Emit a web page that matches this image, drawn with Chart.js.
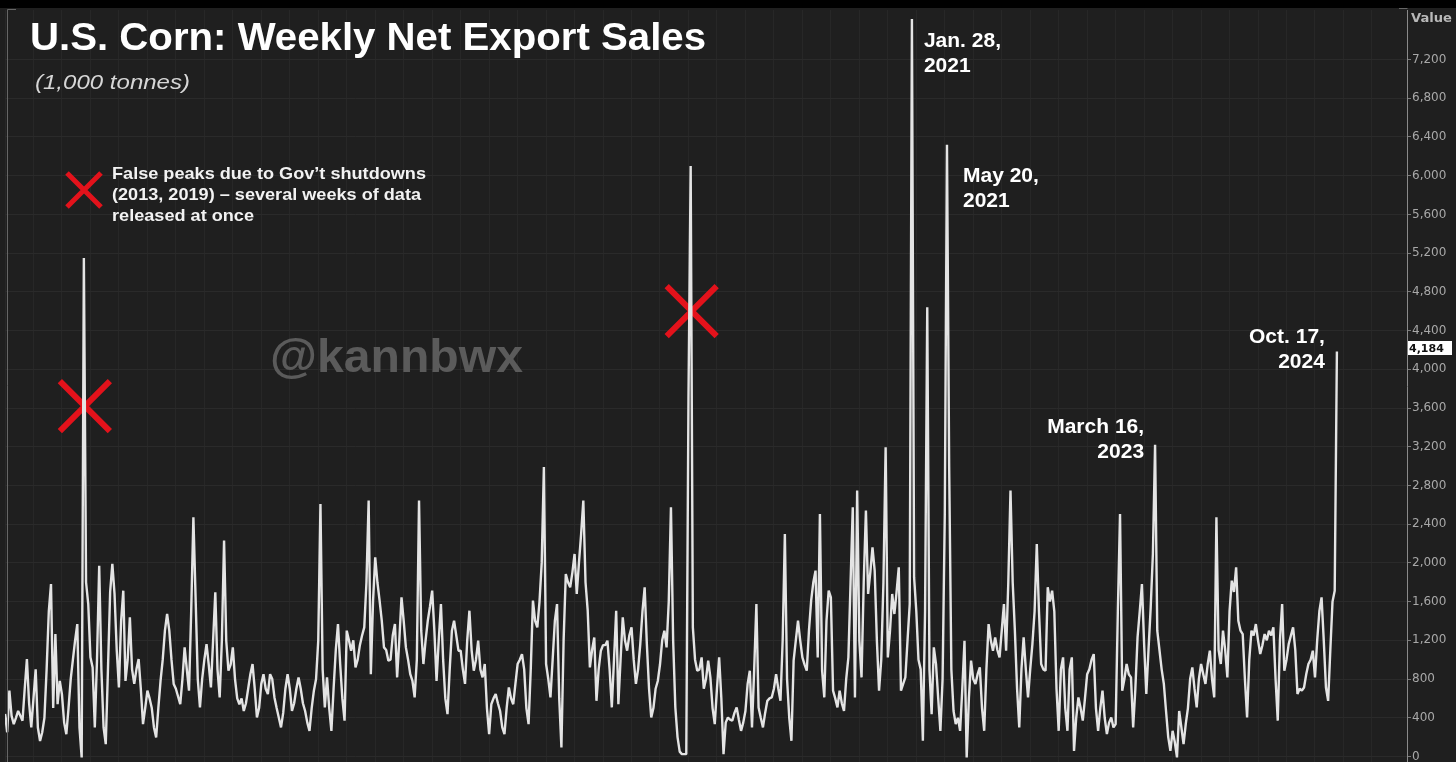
<!DOCTYPE html>
<html>
<head>
<meta charset="utf-8">
<title>U.S. Corn: Weekly Net Export Sales</title>
<script src="https://cdn.jsdelivr.net/npm/chart.js@4.4.1/dist/chart.umd.min.js"></script>
<style>
  html, body { margin: 0; padding: 0; background: #1f1f1f; overflow: hidden; }
  canvas { display: block; }
</style>
</head>
<body>
<canvas id="cornChart" width="1456" height="762"></canvas>
<script>
// weekly net export sales, 1,000 tonnes (last week = Oct. 17, 2024)
const weeklySales = [
  440, 250, 680, 420, 334, 400, 470, 420, 370, 700,
  1006, 550, 300, 600, 900, 300, 160, 250, 400, 900,
  1500, 1782, 500, 1265, 540, 780, 640, 350, 230, 500,
  800, 1000, 1200, 1368, 300, -10, 5150, 1800, 1575, 1024,
  920, 300, 1000, 1970, 900, 300, 127, 900, 1700, 1990,
  1680, 1100, 713, 1400, 1713, 780, 1000, 1437, 900, 750,
  900, 1006, 700, 334, 500, 680, 600, 500, 300, 196,
  500, 780, 1000, 1300, 1472, 1300, 1000, 750, 700, 620,
  540, 800, 1127, 900, 680, 1500, 2471, 1644, 800, 507,
  800, 1000, 1160, 950, 713, 1200, 1696, 900, 610, 1200,
  2230, 1196, 886, 950, 1127, 800, 600, 540, 600, 470,
  550, 700, 850, 955, 700, 403, 500, 750, 850, 700,
  645, 850, 800, 610, 500, 400, 300, 450, 700, 850,
  700, 470, 550, 700, 817, 700, 550, 470, 350, 265,
  500, 680, 800, 1200, 2609, 900, 507, 817, 500, 265,
  700, 1100, 1368, 955, 600, 370, 1300, 1200, 1093, 1200,
  920, 1000, 1150, 1250, 1334, 1800, 2644, 850, 1600, 2058,
  1800, 1610, 1400, 1127, 1100, 990, 1000, 1250, 1368, 817,
  1200, 1644, 1400, 1127, 1000, 850, 780, 610, 1000, 2644,
  1300, 955, 1200, 1403, 1550, 1713, 1300, 780, 1200, 1575,
  1000, 600, 438, 900, 1300, 1403, 1250, 1093, 1093, 900,
  750, 1200, 1506, 1100, 886, 1000, 1196, 900, 817, 955,
  500, 231, 540, 600, 645, 550, 470, 300, 231, 500,
  713, 600, 540, 750, 955, 1000, 1058, 900, 500, 334,
  900, 1610, 1400, 1334, 1600, 2000, 2990, 955, 800, 610,
  1000, 1400, 1575, 600, 93, 1200, 1885, 1800, 1748, 1900,
  2092, 1679, 2000, 2300, 2644, 1800, 1506, 920, 1100, 1230,
  575, 900, 1093, 1150, 1150, 1196, 900, 507, 1000, 1506,
  540, 1000, 1437, 1200, 1093, 1250, 1334, 1000, 750, 900,
  1161, 1500, 1748, 1161, 700, 403, 500, 700, 780, 950,
  1200, 1300, 1127, 1600, 2575, 1200, 507, 200, 50, 24,
  24, 24, 3700, 6100, 1334, 1000, 886, 900, 1024, 700,
  800, 990, 817, 500, 334, 700, 1024, 600, 24, 350,
  403, 380, 370, 450, 507, 380, 265, 350, 470, 750,
  886, 300, 900, 1575, 507, 400, 300, 450, 575, 600,
  610, 700, 850, 700, 575, 1200, 2299, 800, 400, 162,
  990, 1200, 1403, 1200, 1024, 950, 886, 1300, 1610, 1800,
  1920, 1024, 2506, 886, 610, 1400, 1713, 1644, 680, 600,
  507, 680, 550, 470, 800, 1024, 1800, 2575, 610, 2747,
  1200, 817, 1800, 2540, 1679, 1900, 2161, 1920, 1200, 680,
  1000, 1800, 3195, 1024, 1300, 1679, 1472, 1700, 1954, 680,
  750, 817, 1200, 1575, 7620, 1850, 1500, 1000, 900, 162,
  1500, 4640, 900, 438, 1127, 955, 600, 265, 800, 2500,
  6320, 3000, 900, 470, 334, 400, 265, 700, 1196, -10,
  600, 990, 800, 750, 850, 920, 500, 265, 900, 1368,
  1200, 1093, 1230, 1100, 1024, 1300, 1575, 1093, 1800, 2747,
  1800, 1300, 700, 300, 900, 1230, 900, 610, 900, 1161,
  1500, 2196, 1500, 955, 900, 886, 1748, 1600, 1713, 1500,
  700, 265, 900, 1024, 500, 265, 900, 1024, 58, 400,
  610, 500, 370, 600, 850, 900, 1000, 1058, 500, 265,
  500, 680, 400, 231, 350, 403, 300, 334, 1500, 2506,
  680, 800, 955, 850, 817, 300, 700, 1230, 1500, 1782,
  1161, 645, 1100, 1540, 2092, 3220, 1300, 1100, 900, 750,
  470, 200, 58, 265, 150, -10, 470, 300, 127, 334,
  500, 800, 920, 700, 507, 800, 955, 850, 750, 950,
  1093, 800, 610, 2471, 1100, 955, 1300, 1100, 817, 1500,
  1816, 1700, 1954, 1403, 1300, 1265, 800, 403, 1000, 1300,
  1250, 1368, 1200, 1058, 1150, 1265, 1200, 1300, 1250, 1334,
  800, 370, 1200, 1575, 886, 1000, 1161, 1250, 1334, 1100,
  645, 700, 680, 713, 850, 955, 1000, 1093, 817, 1200,
  1500, 1644, 1200, 713, 575, 1100, 1600, 1713, 4184
];
const lastWeek = '2024-10-17';
const valueTicks = [0, 400, 800, 1200, 1600, 2000, 2400, 2800, 3200, 3600,
  4000, 4400, 4800, 5200, 5600, 6000, 6400, 6800, 7200];

// notes on the big weeks (index into weeklySales)
const peakNotes = [
  { week: 414, lines: ['Jan. 28,', '2021'] },
  { week: 430, lines: ['May 20,', '2021'] },
  { week: 525, lines: ['March 16,', '2023'] },
  { week: 608, lines: ['Oct. 17,', '2024'] }
];
const shutdownWeeks = [36, 313];
const shutdownNote = ['False peaks due to Gov\u2019t shutdowns', '(2013, 2019) \u2013 several weeks of data', 'released at once'];

const weekDates = weeklySales.map((_, i) => {
  const d = new Date(lastWeek + 'T00:00:00Z');
  d.setUTCDate(d.getUTCDate() - 7 * (weeklySales.length - 1 - i));
  return d.toISOString().slice(0, 10);
});

// draws text stretched to a given width
function fitText(ctx, text, x, y, width, align) {
  const w = ctx.measureText(text).width;
  ctx.save();
  ctx.translate(x, y);
  ctx.scale(width / w, 1);
  ctx.textAlign = 'left';
  ctx.fillText(text, align === 'right' ? -w : 0, 0);
  ctx.restore();
}

function drawCross(ctx, cx, cy, half, lw) {
  ctx.save();
  ctx.strokeStyle = '#e3121b';
  ctx.lineWidth = lw;
  ctx.beginPath();
  ctx.moveTo(cx - half, cy - half);
  ctx.lineTo(cx + half, cy + half);
  ctx.moveTo(cx + half, cy - half);
  ctx.lineTo(cx - half, cy + half);
  ctx.stroke();
  ctx.restore();
}

const overlay = {
  id: 'overlay',
  beforeDraw(chart) {
    const ctx = chart.ctx;
    ctx.save();
    ctx.fillStyle = '#1f1f1f';
    ctx.fillRect(0, 0, chart.width, chart.height);
    ctx.fillStyle = '#000';
    ctx.fillRect(0, 0, chart.width, 8);
    ctx.restore();
  },
  beforeDatasetsDraw(chart) {
    const ctx = chart.ctx, x = chart.scales.x, y = chart.scales.y;
    // watermark
    ctx.save();
    ctx.fillStyle = '#5b5b5b';
    ctx.font = 'bold 46px "Liberation Sans", Arial, sans-serif';
    ctx.textBaseline = 'alphabetic';
    fitText(ctx, '@kannbwx', 270, 372, 253);
    ctx.restore();
    // red crosses on the shutdown spikes
    drawCross(ctx, x.getPixelForValue(shutdownWeeks[0]) + 1, y.getPixelForValue(3620), 25, 6);
    drawCross(ctx, x.getPixelForValue(shutdownWeeks[1]) + 1, y.getPixelForValue(4600), 25, 6);
  },
  afterDraw(chart) {
    const ctx = chart.ctx, x = chart.scales.x, y = chart.scales.y;
    const area = chart.chartArea;
    ctx.save();
    // frame
    ctx.strokeStyle = '#666';
    ctx.lineWidth = 1;
    ctx.beginPath();
    ctx.moveTo(7.5, chart.height);
    ctx.lineTo(7.5, 9.5);
    ctx.lineTo(16, 9.5);
    ctx.moveTo(area.right - 8, 8.5);
    ctx.lineTo(area.right + 0.5, 8.5);
    ctx.stroke();

    ctx.textBaseline = 'alphabetic';
    // title
    ctx.fillStyle = '#ffffff';
    ctx.font = 'bold 38px "Liberation Sans", Arial, sans-serif';
    fitText(ctx, 'U.S. Corn: Weekly Net Export Sales', 30, 50, 676);
    ctx.fillStyle = '#d6d6d6';
    ctx.font = 'italic 20px "Liberation Sans", Arial, sans-serif';
    fitText(ctx, '(1,000 tonnes)', 35, 89, 155);

    // legend note
    drawCross(ctx, 84, 190, 17, 5);
    ctx.fillStyle = '#f2f2f2';
    ctx.font = 'bold 17px "Liberation Sans", Arial, sans-serif';
    const noteW = [314, 309, 142];
    shutdownNote.forEach((t, i) => fitText(ctx, t, 112, 179 + i * 21, noteW[i]));

    // peak notes
    ctx.font = 'bold 21px "Liberation Sans", Arial, sans-serif';
    ctx.fillStyle = '#ffffff';
    const offs = [
      { dx: 12, dy: 28, align: 'left' },
      { dx: 16, dy: 37, align: 'left' },
      { dx: -11, dy: -12, align: 'right' },
      { dx: -12, dy: -8, align: 'right' }
    ];
    peakNotes.forEach((n, i) => {
      const px = x.getPixelForValue(n.week);
      const py = y.getPixelForValue(weeklySales[n.week]);
      ctx.textAlign = offs[i].align;
      n.lines.forEach((t, j) => ctx.fillText(t, px + offs[i].dx, py + offs[i].dy + j * 25));
    });
    ctx.textAlign = 'left';

    // axis header and last value box
    ctx.fillStyle = '#b8b8b8';
    ctx.font = 'bold 12px "DejaVu Sans", sans-serif';
    fitText(ctx, 'Value', 1411, 22, 41);
    const last = weeklySales[weeklySales.length - 1];
    const ly = Math.round(y.getPixelForValue(last)) - 3;
    ctx.fillStyle = '#ffffff';
    ctx.fillRect(area.right + 1, ly - 7, 44, 14);
    ctx.fillStyle = '#111';
    ctx.font = 'bold 11px "DejaVu Sans", sans-serif';
    ctx.textBaseline = 'middle';
    ctx.fillText(last.toLocaleString('en-US'), area.right + 2, ly + 1);
    ctx.restore();
  }
};

const ctx = document.getElementById('cornChart').getContext('2d');
const cornChart = new Chart(ctx, {
  type: 'line',
  data: {
    labels: weekDates,
    datasets: [{
      label: 'Net export sales',
      data: weeklySales.map((v, i) => ({ x: i, y: v })),
      borderColor: '#e4e4e4',
      borderWidth: 2.4,
      borderJoinStyle: 'bevel',
      pointRadius: 0,
      tension: 0,
      fill: false
    }]
  },
  options: {
    responsive: false,
    devicePixelRatio: 1,
    animation: false,
    layout: { padding: { left: 5, top: 10, right: 0, bottom: 0 } },
    scales: {
      x: {
        type: 'linear',
        min: 0,
        max: 640,
        ticks: { display: false, stepSize: 13 },
        grid: { color: '#272727', drawTicks: false },
        border: { display: false },
        afterFit: s => { s.height = 0; s.paddingLeft = 0; s.paddingRight = 0; }
      },
      y: {
        type: 'linear',
        position: 'right',
        min: -57,
        max: 7712,
        afterBuildTicks: s => { s.ticks = valueTicks.map(v => ({ value: v })); },
        afterFit: s => { s.width = 49; s.paddingTop = 0; s.paddingBottom = 0; },
        ticks: {
          color: '#a8a8a8',
          padding: 1,
          font: { family: '"DejaVu Sans", sans-serif', size: 12 },
          callback: v => v.toLocaleString('en-US')
        },
        grid: { color: '#2a2a2a', tickColor: '#7a7a7a', tickLength: 4 },
        border: { color: '#8a8a8a' }
      }
    },
    plugins: {
      legend: { display: false },
      tooltip: {
        callbacks: {
          title: items => weekDates[items[0].parsed.x],
          label: c => `${c.dataset.label}: ${c.raw.y}`
        }
      }
    }
  },
  plugins: [overlay]
});
</script>
</body>
</html>
